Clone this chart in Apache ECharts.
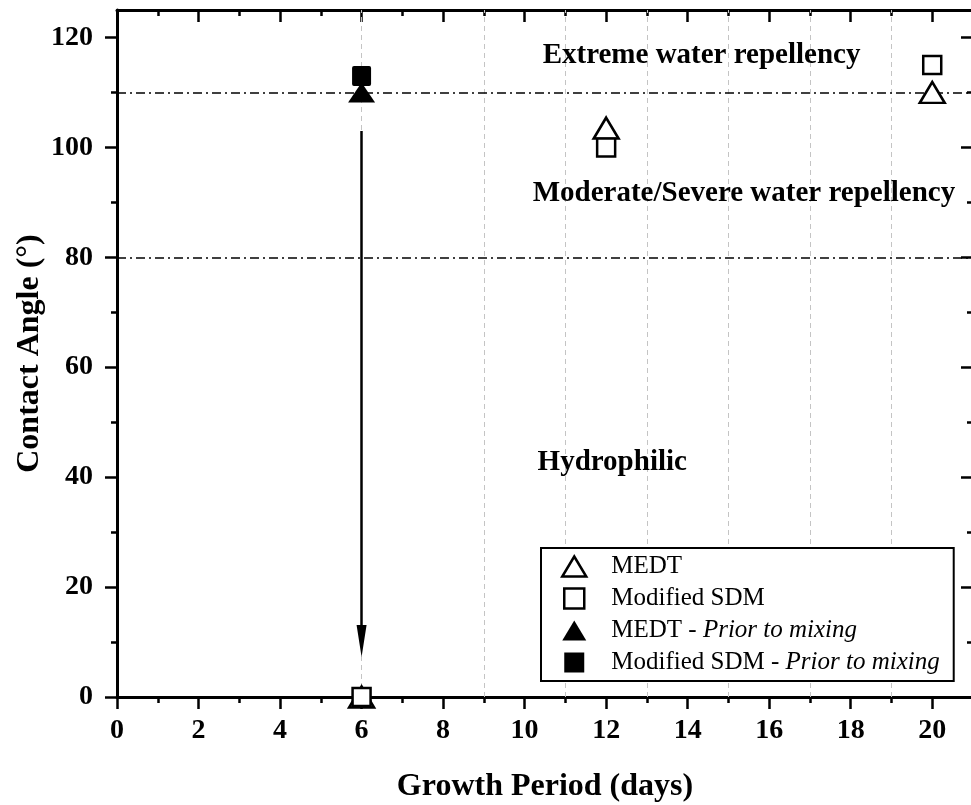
<!DOCTYPE html>
<html>
<head>
<meta charset="utf-8">
<script src="https://cdn.jsdelivr.net/npm/echarts@6/dist/echarts.min.js"></script>
<style>
html,body{margin:0;padding:0;background:#fff;}
#chart{width:971px;height:805px;}
</style>
</head>
<body>
<div id="chart"></div>
<script>
// ---- data ----
const medt = [[6, 0], [12, 103.5], [20, 110]];
const sdm = [[6, 0], [12, 100], [20, 115]];
const medtPrior = [[6, 110]];
const sdmPrior = [[6, 113]];
const xMajorTicks = [0, 2, 4, 6, 8, 10, 12, 14, 16, 18, 20];
const xMinorTicks = [1, 3, 5, 7, 9, 11, 13, 15, 17, 19];
const yMajorTicks = [0, 20, 40, 60, 80, 100, 120];
const yMinorTicks = [10, 30, 50, 70, 90, 110];
const xGridLines = [6, 9, 11, 13, 15, 17, 19];
const thresholdLines = [110, 80];
const arrowStart = [6, 103];
const arrowEnd = [6, 10.2];
const annotations = [
  { name: 'Extreme water repellency', value: [14.34, 116.7] },
  { name: 'Moderate/Severe water repellency', value: [15.38, 91.6] },
  { name: 'Hydrophilic', value: [12.15, 42.7] }
];
const legendNames = ['MEDT', 'Modified SDM', 'MEDT - Prior to mixing', 'Modified SDM - Prior to mixing'];

// ---- chart ----
const FONT = "'Liberation Serif', 'Times New Roman', serif";
const chart = echarts.init(document.getElementById('chart'), null, { renderer: 'canvas' });

function xAx(opts) {
  return Object.assign({
    type: 'value', min: 0, max: 21, gridIndex: 0,
    splitLine: { show: false },
    axisLine: { show: false, onZero: false },
    axisLabel: { show: false },
    axisTick: { show: false }
  }, opts);
}
function yAx(opts) {
  return Object.assign({
    type: 'value', min: 0, max: 125, gridIndex: 0,
    splitLine: { show: false },
    axisLine: { show: false, onZero: false },
    axisLabel: { show: false },
    axisTick: { show: false }
  }, opts);
}

const hollow = { color: '#ffffff', borderColor: '#000000', borderWidth: 2.5, opacity: 1 };
const filled = { color: '#000000', borderColor: '#000000', borderWidth: 0, opacity: 1 };

const option = {
  animation: false,
  backgroundColor: '#ffffff',
  grid: { left: 117, top: 10, width: 856, height: 687, containLabel: false, outerBoundsMode: 'none' },
  xAxis: [
    xAx({
      position: 'bottom',
      axisLine: { show: true, onZero: false, lineStyle: { color: '#000', width: 3 } },
      axisTick: { show: true, inside: false, length: 12, customValues: xMajorTicks, lineStyle: { color: '#000', width: 2.5 } },
      axisLabel: { show: true, customValues: xMajorTicks, margin: 20, color: '#000', fontSize: 28, fontWeight: 'bold', fontFamily: FONT },
      name: 'Growth Period (days)', nameLocation: 'middle', nameGap: 74,
      nameTextStyle: { color: '#000', fontSize: 32, fontWeight: 'bold', fontFamily: FONT }
    }),
    xAx({ position: 'bottom', axisTick: { show: true, inside: false, length: 6, customValues: xMinorTicks, lineStyle: { color: '#000', width: 2.5 } } }),
    xAx({
      position: 'top',
      axisLine: { show: true, onZero: false, lineStyle: { color: '#000', width: 3 } },
      axisTick: { show: true, inside: true, length: 12, customValues: xMajorTicks, lineStyle: { color: '#000', width: 2.5 } }
    }),
    xAx({ position: 'top', axisTick: { show: true, inside: true, length: 6, customValues: xMinorTicks, lineStyle: { color: '#000', width: 2.5 } } })
  ],
  yAxis: [
    yAx({
      position: 'left',
      axisLine: { show: true, onZero: false, lineStyle: { color: '#000', width: 3 } },
      axisTick: { show: true, inside: false, length: 12, customValues: yMajorTicks, lineStyle: { color: '#000', width: 2.5 } },
      axisLabel: { show: true, customValues: yMajorTicks, margin: 24, color: '#000', fontSize: 28, fontWeight: 'bold', fontFamily: FONT },
      name: 'Contact Angle (°)', nameLocation: 'middle', nameGap: 71, nameMoveOverlap: false,
      nameTextStyle: { color: '#000', fontSize: 32, fontWeight: 'bold', fontFamily: FONT }
    }),
    yAx({ position: 'left', axisTick: { show: true, inside: false, length: 6, customValues: yMinorTicks, lineStyle: { color: '#000', width: 2.5 } } }),
    yAx({
      position: 'right',
      axisLine: { show: true, onZero: false, lineStyle: { color: '#000', width: 3 } },
      axisTick: { show: true, inside: true, length: 12, customValues: yMajorTicks, lineStyle: { color: '#000', width: 2.5 } }
    }),
    yAx({ position: 'right', axisTick: { show: true, inside: true, length: 6, customValues: yMinorTicks, lineStyle: { color: '#000', width: 2.5 } } })
  ],
  legend: {
    orient: 'vertical',
    left: 541, top: 548,
    z: 20,
    padding: [6, 14, 6, 20],
    itemGap: 7,
    itemWidth: 24, itemHeight: 20,
    backgroundColor: '#ffffff',
    borderColor: '#000000', borderWidth: 2,
    borderRadius: 0,
    selectedMode: false,
    textStyle: {
      color: '#000', fontSize: 25, fontFamily: FONT,
      rich: {
        s: { width: 20 },
        n: { color: '#000', fontSize: 25, fontFamily: FONT },
        i: { color: '#000', fontSize: 25, fontFamily: FONT, fontStyle: 'italic' }
      }
    },
    formatter: function (name) {
      const parts = name.split(' - ');
      if (parts.length > 1) return '{s|}{n|' + parts[0] + ' - }{i|' + parts[1] + '}';
      return '{s|}{n|' + name + '}';
    },
    data: [
      { name: legendNames[0], icon: 'triangle', itemStyle: hollow },
      { name: legendNames[1], icon: 'path://M0,0H10V10H0Z', itemStyle: hollow },
      { name: legendNames[2], icon: 'triangle', itemStyle: filled },
      { name: legendNames[3], icon: 'path://M0,0H10V10H0Z', itemStyle: filled }
    ]
  },
  series: [
    {
      type: 'line', name: 'refs', data: [], xAxisIndex: 0, yAxisIndex: 0, silent: true, z: 1,
      markLine: {
        z: 1,
        silent: true, animation: false, symbol: ['none', 'none'],
        label: { show: false },
        emphasis: { disabled: true },
        data: xGridLines.map(v => ({ xAxis: v, lineStyle: { color: '#c4c4c4', width: 1, type: [5, 4] } }))
          .concat(thresholdLines.map(v => ({ yAxis: v, lineStyle: { color: '#000', width: 1.5, type: [9, 4, 2, 4] } })))
      }
    },
    {
      type: 'line', name: 'arrow', data: [], xAxisIndex: 0, yAxisIndex: 0, silent: true, z: 3,
      markLine: {
        z: 3,
        silent: true, animation: false,
        symbol: ['none', 'triangle'], symbolSize: [10, 32],
        label: { show: false },
        emphasis: { disabled: true },
        lineStyle: { color: '#000', width: 2.5, type: 'solid' },
        itemStyle: { color: '#000' },
        data: [[{ coord: arrowStart }, { coord: arrowEnd }]]
      }
    },
    {
      type: 'scatter', name: legendNames[2], data: medtPrior, symbol: 'triangle', symbolSize: [27, 20],
      itemStyle: filled, clip: false, z: 4
    },
    {
      type: 'scatter', name: legendNames[3], data: sdmPrior, symbol: 'path://M2,0H18Q20,0 20,2V18Q20,20 18,20H2Q0,20 0,18V2Q0,0 2,0Z', symbolSize: [19, 20],
      itemStyle: filled, clip: false, z: 4
    },
    {
      type: 'scatter', name: legendNames[0], data: medt, symbol: 'triangle', symbolSize: [25, 21],
      itemStyle: hollow, clip: false, z: 5
    },
    {
      type: 'scatter', name: legendNames[1], data: sdm, symbol: 'rect', symbolSize: [18, 18],
      itemStyle: hollow, clip: false, z: 6
    },
    {
      type: 'scatter', name: 'annotations', data: annotations, symbol: 'circle', symbolSize: 1,
      itemStyle: { color: 'rgba(0,0,0,0)', opacity: 1 }, silent: true, clip: false, z: 7,
      label: {
        show: true, position: 'inside', formatter: '{b}',
        color: '#000', fontSize: 29, fontWeight: 'bold', fontFamily: FONT
      }
    }
  ]
};
chart.setOption(option);
</script>
</body>
</html>
